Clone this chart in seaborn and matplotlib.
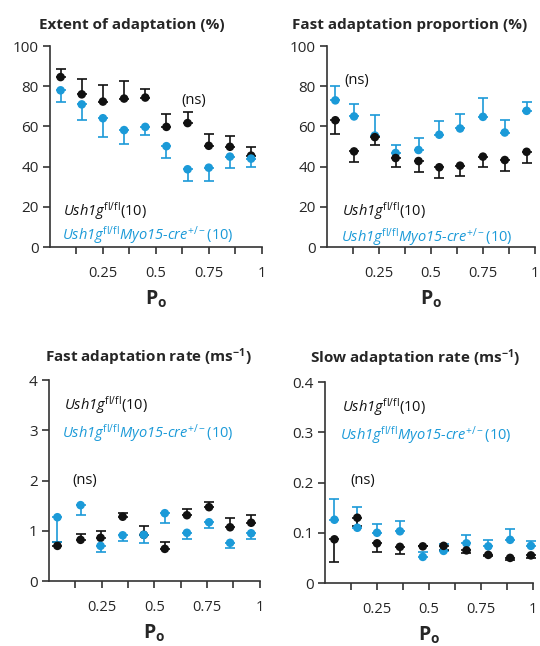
import matplotlib
matplotlib.use("Agg")
import matplotlib.pyplot as plt
import seaborn as sns
import numpy as np

BLACK = "#111111"
BLUE = "#1b9ad8"

# Extent of adaptation (%) - ctrl bars go up, cre bars go down
ext_po = [0.05, 0.15, 0.25, 0.35, 0.45, 0.55, 0.65, 0.75, 0.85, 0.95]
ext_ctrl = [84.6, 76.0, 72.4, 73.9, 74.4, 59.8, 61.7, 50.4, 49.9, 45.5]
ext_ctrl_cap = [88.8, 83.5, 80.5, 82.5, 78.8, 66.1, 67.0, 56.4, 55.4, 49.8]
ext_cre = [78.0, 71.0, 64.1, 58.2, 59.8, 50.2, 38.7, 39.5, 45.0, 44.0]
ext_cre_cap = [72.0, 63.0, 54.9, 51.1, 56.0, 44.3, 32.9, 32.9, 39.2, 40.0]

# Fast adaptation proportion (%) - ctrl bars down, cre bars up
prop_po = [0.04, 0.13, 0.23, 0.33, 0.44, 0.54, 0.64, 0.75, 0.855, 0.96]
prop_ctrl = [63.1, 47.6, 54.7, 44.3, 42.8, 39.7, 40.5, 45.0, 43.3, 47.4]
prop_ctrl_cap = [56.5, 42.1, 50.9, 40.0, 37.3, 34.2, 35.5, 39.7, 38.0, 41.8]
prop_cre = [73.0, 65.0, 55.5, 46.8, 48.3, 55.9, 59.0, 64.8, 57.0, 67.8]
prop_cre_cap = [80.0, 71.2, 65.6, 50.7, 54.2, 62.5, 66.1, 74.0, 63.1, 72.2]

# Fast adaptation rate (ms-1) - ctrl bars up, cre bars down
fast_po = [0.04, 0.15, 0.245, 0.35, 0.45, 0.55, 0.655, 0.76, 0.86, 0.96]
fast_ctrl = [0.70, 0.82, 0.86, 1.28, 0.92, 0.64, 1.31, 1.47, 1.07, 1.16]
fast_ctrl_cap = [0.78, 0.93, 1.00, 1.36, 1.10, 0.78, 1.43, 1.57, 1.25, 1.31]
fast_cre = [1.27, 1.51, 0.70, 0.91, 0.92, 1.35, 0.96, 1.17, 0.76, 0.95]
fast_cre_cap = [0.78, 1.31, 0.58, 0.79, 0.76, 1.15, 0.84, 1.05, 0.66, 0.84]

# Slow adaptation rate (ms-1) - ctrl bars down, cre bars up
slow_po = [0.045, 0.155, 0.25, 0.36, 0.47, 0.57, 0.68, 0.785, 0.89, 0.99]
slow_ctrl = [0.087, 0.130, 0.079, 0.072, 0.073, 0.074, 0.065, 0.056, 0.050, 0.055]
slow_ctrl_cap = [0.042, 0.113, 0.062, 0.058, 0.073, 0.066, 0.060, 0.053, 0.045, 0.050]
slow_cre = [0.126, 0.110, 0.100, 0.103, 0.052, 0.064, 0.079, 0.073, 0.086, 0.074]
slow_cre_cap = [0.167, 0.151, 0.117, 0.123, 0.062, 0.077, 0.095, 0.086, 0.108, 0.083]

# rm is italic here so digits inside the gene names stay italic; sf is upright
ctrl_label = r"$\mathit{Ush1g}^{\mathsf{fl/fl}}$(10)"
cre_label = r"$\mathit{Ush1g}^{\mathsf{fl/fl}}\mathit{Myo15\text{-}cre}^{\mathsf{+/-}}$(10)"

sns.set_style("ticks")
plt.rcParams["font.family"] = ["Open Sans", "DejaVu Sans"]
plt.rcParams["mathtext.fontset"] = "custom"
plt.rcParams["mathtext.rm"] = "Open Sans:italic"
plt.rcParams["mathtext.it"] = "Open Sans:italic"
plt.rcParams["mathtext.sf"] = "Open Sans"
plt.rcParams["mathtext.bf"] = "Open Sans:bold"


def one_sided(vals, caps):
    vals = np.array(vals)
    caps = np.array(caps)
    lower = np.clip(vals - caps, 0, None)
    upper = np.clip(caps - vals, 0, None)
    return [lower, upper]


def draw_group(ax, po, vals, caps, color):
    ax.errorbar(po, vals, yerr=one_sided(vals, caps), fmt="none", ecolor=color,
                elinewidth=1.2, capsize=3.6, capthick=1.2, clip_on=False)
    sns.scatterplot(x=po, y=vals, color=color, s=38, edgecolor="none", linewidth=0,
                    ax=ax, clip_on=False, zorder=3)


def style_axes(ax, ymax, yticks, yticklabels):
    ax.set_xlim(0, 1)
    ax.set_ylim(0, ymax)
    ax.set_xticks([0.25, 0.5, 0.75, 1])
    ax.set_xticklabels(["0.25", "0.5", "0.75", "1"])
    ax.set_xticks([0.125, 0.375, 0.625, 0.875], minor=True)
    ax.set_yticks(yticks)
    ax.set_yticklabels(yticklabels)
    ax.tick_params(axis="x", which="both", length=5, width=1.2, pad=9,
                   labelsize=10.5, color="#333333")
    ax.tick_params(axis="y", length=5, width=1.2, pad=3, labelsize=11,
                   color="#333333")
    for s in ["left", "bottom"]:
        ax.spines[s].set_linewidth(1.2)
        ax.spines[s].set_color("#333333")
    sns.despine(ax=ax)
    ax.set_xlabel(r"$\mathbf{P_o}$", fontsize=14, labelpad=5)
    ax.set_ylabel("")


fig = plt.figure(figsize=(5.4, 6.46), dpi=100)
ax1 = fig.add_axes([0.0926, 0.6176, 0.392, 0.311])
ax2 = fig.add_axes([0.6056, 0.6176, 0.385, 0.311])
ax3 = fig.add_axes([0.0907, 0.1006, 0.390, 0.311])
ax4 = fig.add_axes([0.602, 0.0975, 0.385, 0.311])

# panel 1
draw_group(ax1, ext_po, ext_ctrl, ext_ctrl_cap, BLACK)
draw_group(ax1, ext_po, ext_cre, ext_cre_cap, BLUE)
style_axes(ax1, 100, [0, 20, 40, 60, 80, 100], ["0", "20", "40", "60", "80", "100"])
ax1.text(0.06, 18, ctrl_label, color=BLACK, fontsize=10.5, va="center")
ax1.text(0.055, 6, cre_label, color=BLUE, fontsize=10.5, va="center")
ax1.text(0.62, 73, "(ns)", color=BLACK, fontsize=10.5, va="center")

# panel 2
draw_group(ax2, prop_po, prop_cre, prop_cre_cap, BLUE)
draw_group(ax2, prop_po, prop_ctrl, prop_ctrl_cap, BLACK)
style_axes(ax2, 100, [0, 20, 40, 60, 80, 100], ["0", "20", "40", "60", "80", "100"])
ax2.text(0.07, 18, ctrl_label, color=BLACK, fontsize=10.5, va="center")
ax2.text(0.065, 5, cre_label, color=BLUE, fontsize=10.5, va="center")
ax2.text(0.085, 83, "(ns)", color=BLACK, fontsize=10.5, va="center")

# panel 3
draw_group(ax3, fast_po, fast_ctrl, fast_ctrl_cap, BLACK)
draw_group(ax3, fast_po, fast_cre, fast_cre_cap, BLUE)
style_axes(ax3, 4, [0, 1, 2, 3, 4], ["0", "1", "2", "3", "4"])
ax3.text(0.07, 3.5, ctrl_label, color=BLACK, fontsize=10.5, va="center")
ax3.text(0.06, 2.95, cre_label, color=BLUE, fontsize=10.5, va="center")
ax3.text(0.11, 2.0, "(ns)", color=BLACK, fontsize=10.5, va="center")

# panel 4
draw_group(ax4, slow_po, slow_cre, slow_cre_cap, BLUE)
draw_group(ax4, slow_po, slow_ctrl, slow_ctrl_cap, BLACK)
style_axes(ax4, 0.4, [0, 0.1, 0.2, 0.3, 0.4], ["0", "0.1", "0.2", "0.3", "0.4"])
ax4.text(0.08, 0.35, ctrl_label, color=BLACK, fontsize=10.5, va="center")
ax4.text(0.07, 0.295, cre_label, color=BLUE, fontsize=10.5, va="center")
ax4.text(0.12, 0.205, "(ns)", color=BLACK, fontsize=10.5, va="center")

# panel titles
fig.text(132 / 540, 1 - 25 / 646, "Extent of adaptation (%)", ha="center", va="center",
         fontsize=11, fontweight="bold")
fig.text(410 / 540, 1 - 25 / 646, "Fast adaptation proportion (%)", ha="center", va="center",
         fontsize=11, fontweight="bold")
fig.text(148 / 540, 1 - 357 / 646, r"Fast adaptation rate (ms$^{\mathbf{-1}}$)", ha="center",
         va="center", fontsize=11, fontweight="bold")
fig.text(415 / 540, 1 - 358 / 646, r"Slow adaptation rate (ms$^{\mathbf{-1}}$)", ha="center",
         va="center", fontsize=11, fontweight="bold")

fig.savefig("out.png", dpi=100)
